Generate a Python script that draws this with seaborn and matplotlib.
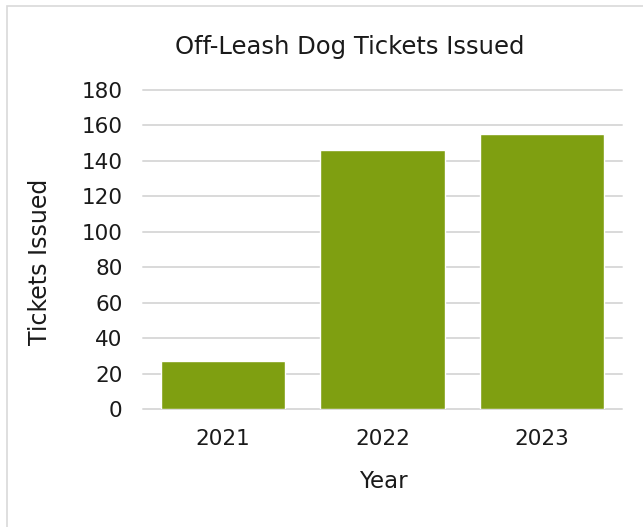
import matplotlib
matplotlib.use("Agg")
import matplotlib.pyplot as plt
from matplotlib.patches import Rectangle
import seaborn as sns
import pandas as pd

years = ["2021", "2022", "2023"]
tickets = [27, 146, 155]
y_ticks = [0, 20, 40, 60, 80, 100, 120, 140, 160, 180]

title = "Off-Leash Dog Tickets Issued"
x_label = "Year"
y_label = "Tickets Issued"

bar_color = "#7F9F11"
grid_color = "#D9D9D9"
text_color = "#1A1A1A"

sns.set_theme(style="white")
plt.rcParams["font.family"] = ["DejaVu Sans"]

df = pd.DataFrame({"Year": years, "Tickets": tickets})

W, H = 643, 527
fig = plt.figure(figsize=(W / 100, H / 100), dpi=100)
ax = fig.add_axes([143.3 / W, 1 - 409.3 / H, 478.4 / W, 319.5 / H])

sns.barplot(data=df, x="Year", y="Tickets", color=bar_color, saturation=1,
            width=0.78, ax=ax, zorder=3)

ax.set_ylim(0, 180)
ax.set_yticks(y_ticks)
ax.set_xlim(-0.5, len(years) - 0.5)
ax.yaxis.grid(True, color=grid_color, linewidth=1.4, zorder=0)
for gl in ax.get_ygridlines():
    gl.set_clip_on(False)
ax.xaxis.grid(False)
for s in ax.spines.values():
    s.set_visible(False)
ax.tick_params(axis="both", length=0, labelsize=15.5, colors=text_color)
ax.tick_params(axis="y", pad=15)
ax.tick_params(axis="x", pad=14)

ax.set_xlabel(x_label, fontsize=16.5, color=text_color)
ax.set_ylabel(y_label, fontsize=17, color=text_color)
ax.xaxis.set_label_coords((383 - 143.3) / 478.4, (409.3 - 482) / 319.5)
ax.yaxis.set_label_coords((40 - 143.3) / 478.4, (409.3 - 262) / 319.5)
ax.xaxis.label.set_va("center")
ax.yaxis.label.set_va("center")

fig.text(350 / W, 1 - 47 / H, title, ha="center", va="center",
         fontsize=17.5, color=text_color)

# chart-area frame
fig.patches.append(Rectangle((6.5 / W, -0.1), 1.2, (H - 5.5) / H + 0.1,
                             transform=fig.transFigure, fill=False,
                             edgecolor=grid_color, linewidth=1.2))

fig.savefig("out.png", dpi=100)
